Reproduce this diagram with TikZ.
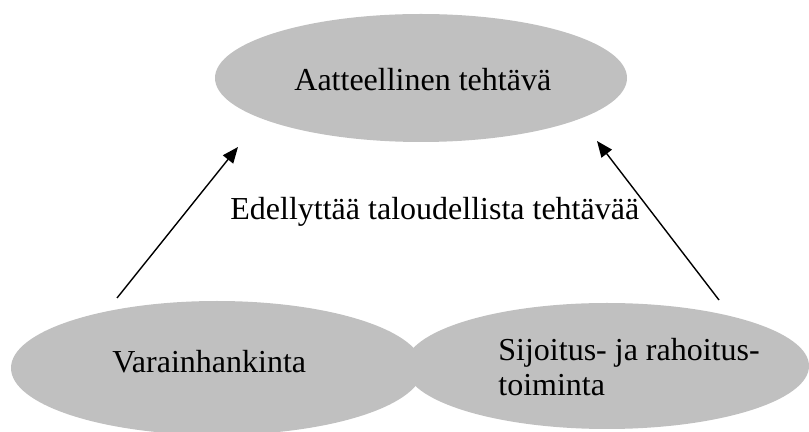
\documentclass[tikz,border=0pt]{standalone}
\usepackage{fontspec}
\setmainfont{Liberation Serif}
\usetikzlibrary{shapes.geometric, arrows.meta}

\definecolor{silver}{RGB}{192,192,192}
\tikzset{
    blob/.style={ellipse, fill=silver, draw=none, inner sep=0pt},
    lbl/.style={anchor=base west, inner sep=0pt, font=\fontsize{16}{17.6}\selectfont},
    arr/.style={-{Triangle[length=8pt,width=6.5pt]}, line width=0.7pt}
}

\begin{document}
\begin{tikzpicture}[x=0.5pt, y=-0.5pt]
    \useasboundingbox (0,0) rectangle (809,432);

    % Draw the three ellipses
    \node[blob, minimum width=206pt, minimum height=64pt] (aate) at (421,78) {};
    \node[blob, minimum width=206pt, minimum height=67pt] (vara) at (217,368) {};
    \node[blob, minimum width=202pt, minimum height=63pt] (sijo) at (607,366) {};

    % Place the texts
    \node[lbl] (aateText) at (294,91) {Aatteellinen tehtävä};
    \node[lbl] (varaText) at (112,373) {Varainhankinta};
    \node[lbl, align=left] (sijoText) at (498,396) {Sijoitus- ja rahoitus-\\toiminta};
    \node[lbl] (ehto) at (230,220) {Edellyttää taloudellista tehtävää};

    % Define the free ends of the arrows
    \coordinate (varaTail) at (117,298);
    \coordinate (aateLeft) at (238,147);
    \coordinate (sijoTail) at (719,300);
    \coordinate (aateRight) at (597,141);

    % Draw the arrows
    \draw[arr] (varaTail) -- (aateLeft);
    \draw[arr] (sijoTail) -- (aateRight);
\end{tikzpicture}
\end{document}
